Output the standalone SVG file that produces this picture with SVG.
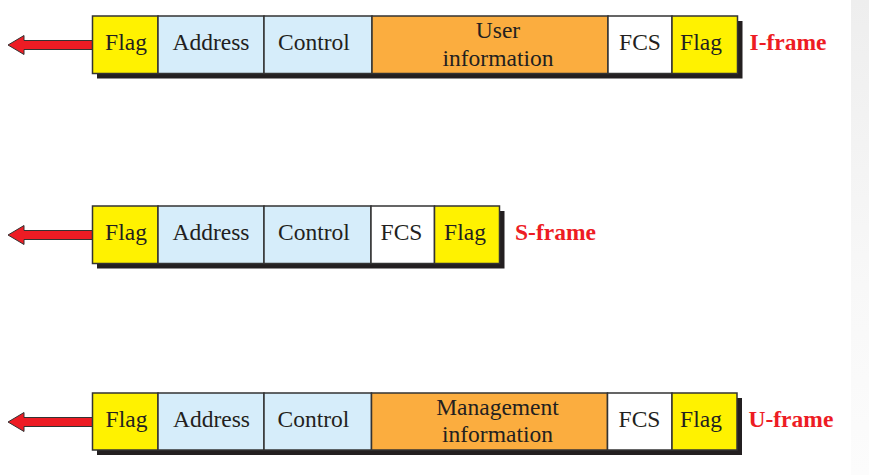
<svg xmlns="http://www.w3.org/2000/svg" width="869" height="475" viewBox="0 0 869 475">
  <defs>
    <linearGradient id="edge" x1="0" y1="0" x2="0" y2="1">
      <stop offset="0" stop-color="#eeeeee"/>
      <stop offset="0.6" stop-color="#f8f8f8"/>
      <stop offset="1" stop-color="#fcfcfc"/>
    </linearGradient>
    <style>
      .f { stroke:#333333; stroke-width:1.5; }
      .flag { fill:#fff200; }
      .ctl { fill:#d6edfa; }
      .info { fill:#fbad3f; }
      .fcs { fill:#ffffff; }
      .shadow { fill:#231f20; }
      .t { font-family:"Liberation Serif","Times New Roman",serif; font-size:23.5px; fill:#231f20; text-anchor:middle; }
      .lbl { font-family:"Liberation Serif","Times New Roman",serif; font-size:23.5px; font-weight:bold; fill:#ed1c24; }
      .arrow { fill:#ed1c24; stroke:#333333; stroke-width:1; stroke-linejoin:miter; }
    </style>
  </defs>
  <rect x="0" y="0" width="869" height="475" fill="#ffffff"/>
  <rect x="851" y="0" width="18" height="475" fill="url(#edge)"/>

  <g id="connectors">
    <polygon class="arrow" points="8,45 24,35.5 24,40.5 92.5,40.5 92.5,49.5 24,49.5 24,54.5"/>
    <polygon class="arrow" points="8,235 24,225.5 24,230.5 92.5,230.5 92.5,239.5 24,239.5 24,244.5"/>
    <polygon class="arrow" points="8,422 24,412.5 24,417.5 92.5,417.5 92.5,426.5 24,426.5 24,431.5"/>
  </g>

  <g id="i-frame">
    <rect class="shadow" x="97" y="21" width="645.5" height="57.5"/>
    <g id="i-flag1"><rect class="f flag" x="92.5" y="16" width="65.5" height="57.5"/><text class="t" x="126" y="49.5">Flag</text></g>
    <g id="i-address"><rect class="f ctl" x="158" y="16" width="106" height="57.5"/><text class="t" x="211" y="49.5">Address</text></g>
    <g id="i-control"><rect class="f ctl" x="264" y="16" width="108" height="57.5"/><text class="t" x="314" y="49.5">Control</text></g>
    <g id="i-user"><rect class="f info" x="372" y="16" width="236" height="57.5"/><text class="t" x="498" y="38">User</text><text class="t" x="498" y="65.5">information</text></g>
    <g id="i-fcs"><rect class="f fcs" x="608" y="16" width="64" height="57.5"/><text class="t" x="640" y="49.5">FCS</text></g>
    <g id="i-flag2"><rect class="f flag" x="672" y="16" width="65.5" height="57.5"/><text class="t" x="701" y="49.5">Flag</text></g>
    <text class="lbl" x="749.5" y="49.5">I-frame</text>
  </g>

  <g id="s-frame">
    <rect class="shadow" x="97" y="211" width="407.5" height="57.5"/>
    <g id="s-flag1"><rect class="f flag" x="92.5" y="206" width="65.5" height="57.5"/><text class="t" x="126" y="239.5">Flag</text></g>
    <g id="s-address"><rect class="f ctl" x="158" y="206" width="106" height="57.5"/><text class="t" x="211" y="239.5">Address</text></g>
    <g id="s-control"><rect class="f ctl" x="264" y="206" width="107" height="57.5"/><text class="t" x="314" y="239.5">Control</text></g>
    <g id="s-fcs"><rect class="f fcs" x="371" y="206" width="63.5" height="57.5"/><text class="t" x="401.5" y="239.5">FCS</text></g>
    <g id="s-flag2"><rect class="f flag" x="434.5" y="206" width="65" height="57.5"/><text class="t" x="465" y="239.5">Flag</text></g>
    <text class="lbl" x="515" y="239.5">S-frame</text>
  </g>

  <g id="u-frame">
    <rect class="shadow" x="97" y="398" width="645" height="57"/>
    <g id="u-flag1"><rect class="f flag" x="92.5" y="393" width="65.5" height="57"/><text class="t" x="126.5" y="426.7">Flag</text></g>
    <g id="u-address"><rect class="f ctl" x="158" y="393" width="106" height="57"/><text class="t" x="211.5" y="426.7">Address</text></g>
    <g id="u-control"><rect class="f ctl" x="264" y="393" width="107.5" height="57"/><text class="t" x="313.5" y="426.7">Control</text></g>
    <g id="u-mgmt"><rect class="f info" x="371.5" y="393" width="236" height="57"/><text class="t" x="497.5" y="414.5">Management</text><text class="t" x="497.5" y="442.3">information</text></g>
    <g id="u-fcs"><rect class="f fcs" x="607.5" y="393" width="64.5" height="57"/><text class="t" x="639.5" y="426.7">FCS</text></g>
    <g id="u-flag2"><rect class="f flag" x="672" y="393" width="65" height="57"/><text class="t" x="701" y="426.7">Flag</text></g>
    <text class="lbl" x="748.5" y="426.7">U-frame</text>
  </g>
</svg>
